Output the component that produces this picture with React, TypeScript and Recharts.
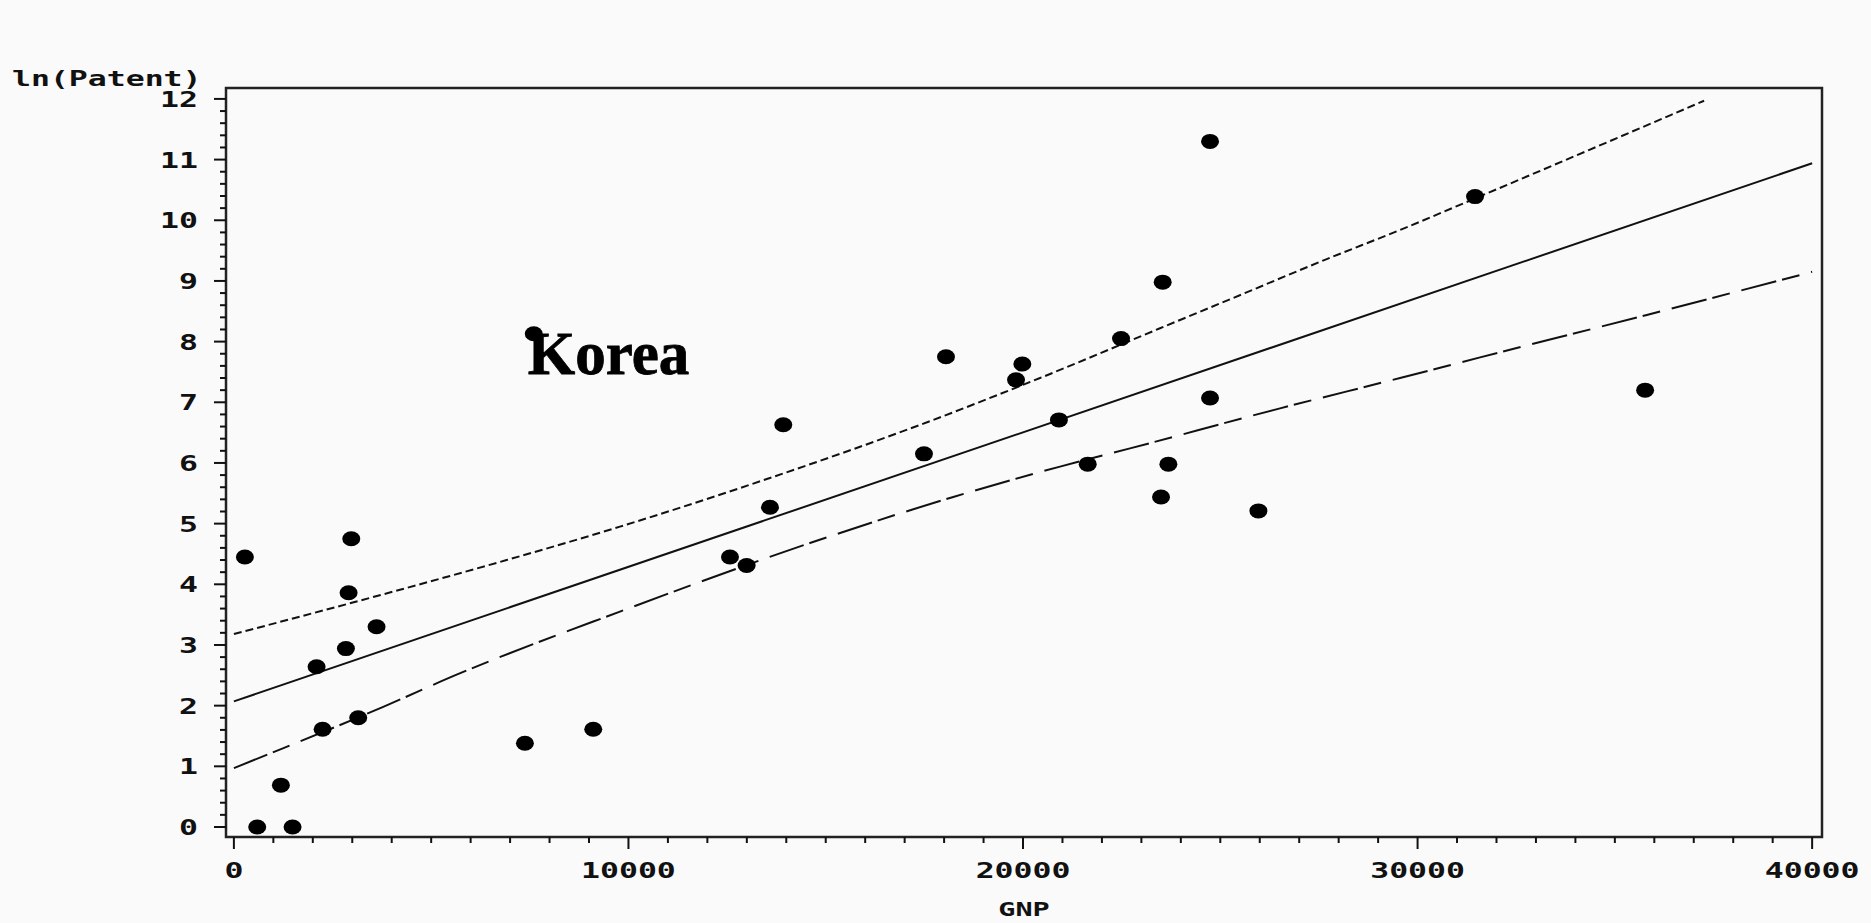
import { ScatterChart, Scatter, XAxis, YAxis, ReferenceArea, ReferenceDot } from "recharts";

// observed countries: GNP vs ln(Patent)
const GNP = [
  279, 591, 1487, 1191, 2096, 2248, 2839, 2907, 2975, 3151, 3616, 7376, 7600,
  9108, 12573, 12995, 13587, 13924, 17490, 18048, 19823, 19983, 20910, 21640,
  22484, 23498, 23540, 23684, 24740, 24740, 25966, 31457, 35767,
];
const LN_PATENT = [
  4.45, 0, 0, 0.69, 2.64, 1.61, 2.94, 3.86, 4.75, 1.8, 3.3, 1.38, 8.13, 1.61,
  4.45, 4.31, 5.27, 6.63, 6.15, 7.75, 7.37, 7.63, 6.71, 5.98, 8.05, 5.44, 8.98,
  5.98, 11.3, 7.07, 5.21, 10.39, 7.2,
];

const KOREA_GNP = 7600;
const KOREA_LN = 8.13;

// fitted line
const FIT_X = [0, 40000];
const FIT_Y = [2.07, 10.94];

// upper confidence limit (short dashes)
const UPPER_X = [0, 4208, 6912, 9784, 13164, 17727, 20431, 23473, 25330, 27698, 29556, 31457, 37262];
const UPPER_Y = [3.18, 3.91, 4.4, 4.95, 5.66, 6.71, 7.4, 8.22, 8.72, 9.36, 9.84, 10.36, 11.97];

// lower confidence limit (long dashes)
const LOWER_X = [0, 913, 3785, 5645, 9784, 14600, 18233, 20938, 22712, 26514, 29556, 31584, 35810, 40000];
const LOWER_Y = [0.97, 1.21, 1.98, 2.51, 3.55, 4.68, 5.44, 5.94, 6.24, 6.9, 7.4, 7.74, 8.44, 9.15];

const X_TICKS = Array.from({ length: 41 }, (_, i) => i * 1000);
const Y_TICKS = Array.from({ length: 61 }, (_, i) => Math.round(i * 2) / 10);

const W = 1871;
const H = 923;
const PLOT = { left: 226, top: 88, right: 1822, bottom: 837 };
const INK = "#111";
const MONO = "'DejaVu Sans Mono', monospace";

const pairs = (xs: number[], ys: number[]) => xs.map((x, i) => ({ x, y: ys[i] }));

const points = pairs(GNP, LN_PATENT);
const fit = pairs(FIT_X, FIT_Y);
const upper = pairs(UPPER_X, UPPER_Y);
const lower = pairs(LOWER_X, LOWER_Y);

function MonoText({ x, y, anchor, size = 21, children }: { x: number; y: number; anchor: string; size?: number; children: any }) {
  return (
    <text
      transform={`translate(${x},${y}) scale(1.5,1)`}
      textAnchor={anchor}
      fontFamily={MONO}
      fontWeight="bold"
      fontSize={size}
      fill={INK}
    >
      {children}
    </text>
  );
}

function XTick(props: any) {
  const { x, payload } = props;
  const major = payload.value % 10000 === 0;
  return (
    <g>
      <line x1={x} x2={x} y1={PLOT.bottom} y2={PLOT.bottom + (major ? 12 : 6)} stroke={INK} strokeWidth={2} />
      {major && (
        <MonoText x={x} y={PLOT.bottom + 41} anchor="middle">
          {payload.value}
        </MonoText>
      )}
    </g>
  );
}

function YTick(props: any) {
  const { y, payload } = props;
  const major = Math.abs(payload.value - Math.round(payload.value)) < 1e-6;
  return (
    <g>
      <line x1={PLOT.left - (major ? 12 : 6)} x2={PLOT.left} y1={y} y2={y} stroke={INK} strokeWidth={2} />
      {major && (
        <MonoText x={198} y={y + 8} anchor="end">
          {payload.value}
        </MonoText>
      )}
    </g>
  );
}

function GnpLabel(props: any) {
  const { x, width } = props.viewBox;
  return (
    <MonoText x={x + width / 2} y={H - 7} anchor="middle" size={19}>
      GNP
    </MonoText>
  );
}

const dot = (p: any) => <ellipse cx={p.cx} cy={p.cy} rx={9} ry={7.5} fill="#000" />;
const none = () => <g />;

function KoreaLabel(props: any) {
  const { x, y } = props.viewBox;
  return (
    <text
      x={x - 6}
      y={y + 40}
      fontFamily="'Liberation Serif', 'Times New Roman', serif"
      fontWeight="bold"
      fontSize={61}
      fill="#000"
      stroke="#000"
      strokeWidth={0.8}
    >
      Korea
    </text>
  );
}

export default function App() {
  return (
    <div style={{ position: "fixed", left: 0, top: 0, width: W, height: H, background: "#fafafa" }}>
      <ScatterChart
        width={W}
        height={H}
        margin={{ top: PLOT.top, right: W - PLOT.right, bottom: 0, left: 0 }}
      >
        <XAxis
          type="number"
          dataKey="x"
          domain={[-200, 40250]}
          allowDataOverflow
          ticks={X_TICKS}
          interval={0}
          height={H - PLOT.bottom}
          tickSize={0}
          tickMargin={0}
          axisLine={false}
          tickLine={false}
          tick={<XTick />}
          label={<GnpLabel />}
        />
        <YAxis
          type="number"
          dataKey="y"
          domain={[-0.165, 12.18]}
          allowDataOverflow
          ticks={Y_TICKS}
          interval={0}
          width={PLOT.left}
          tickSize={0}
          tickMargin={0}
          axisLine={false}
          tickLine={false}
          tick={<YTick />}
        />
        <ReferenceArea
          x1={-200}
          x2={40250}
          y1={-0.165}
          y2={12.18}
          fill="none"
          stroke="#222"
          strokeWidth={2.5}
          ifOverflow="visible"
        />
        <Scatter
          data={upper}
          shape={none}
          line={{ stroke: INK, strokeWidth: 2, strokeDasharray: "8 4" }}
          lineJointType="monotoneX"
          isAnimationActive={false}
          legendType="none"
        />
        <Scatter
          data={fit}
          shape={none}
          line={{ stroke: INK, strokeWidth: 2 }}
          isAnimationActive={false}
          legendType="none"
        />
        <Scatter
          data={lower}
          shape={none}
          line={{ stroke: INK, strokeWidth: 2, strokeDasharray: "36 6 18 12" }}
          lineJointType="monotoneX"
          isAnimationActive={false}
          legendType="none"
        />
        <Scatter data={points} shape={dot} isAnimationActive={false} legendType="none" />
        <ReferenceDot x={KOREA_GNP} y={KOREA_LN} r={0} stroke="none" fill="none" label={KoreaLabel} />
      </ScatterChart>
      <svg
        width={260}
        height={100}
        style={{ position: "absolute", left: 0, top: 0, pointerEvents: "none" }}
      >
        <MonoText x={12} y={86} anchor="start">
          ln(Patent)
        </MonoText>
      </svg>
    </div>
  );
}
